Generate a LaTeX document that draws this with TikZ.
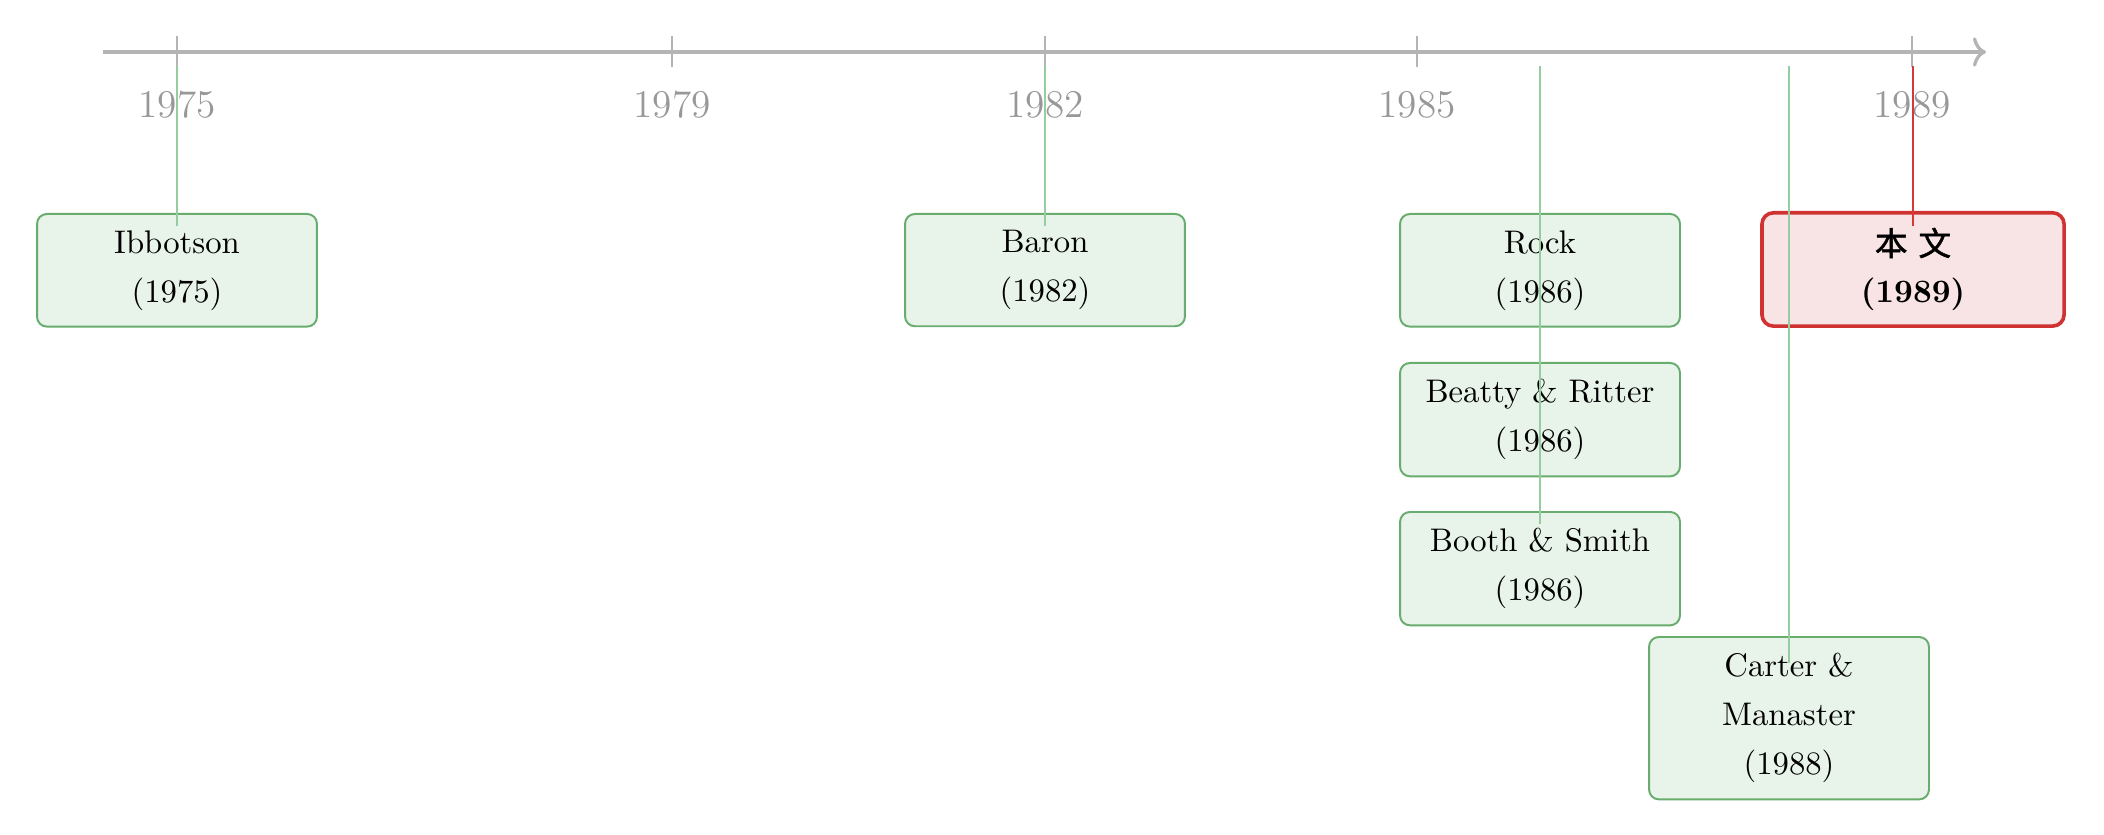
\documentclass[tikz,border=0pt]{standalone}
\usepackage{fontspec}
\newfontfamily\cjk{Noto Sans CJK SC}[AutoFakeBold=1.5]
\usetikzlibrary{arrows.meta}
\definecolor{axisgray}{RGB}{180,180,180}
\definecolor{labelgray}{RGB}{152,152,152}
\definecolor{gline}{RGB}{148,205,160}
\definecolor{gborder}{RGB}{104,172,110}
\definecolor{gfill}{RGB}{232,243,233}
\definecolor{rborder}{RGB}{208,50,50}
\definecolor{rfill}{RGB}{248,228,229}
\definecolor{rline}{RGB}{212,56,56}
\begin{document}
\begin{tikzpicture}[x=0.30581pt,y=-0.30581pt,
  axis/.style={axisgray,line width=1pt,-{To[length=4pt,width=9pt]}},
  tickmark/.style={axisgray,line width=0.5pt},
  yearlabel/.style={text=labelgray,font=\large,anchor=base,inner sep=0pt},
  paper/.style={draw=gborder,fill=gfill,line width=0.6pt,rounded corners=3pt,
    text width=72pt,align=center,inner xsep=6.8pt,inner ysep=5pt,anchor=north,
    minimum height=34.2pt,font=\fontsize{10}{15}\selectfont},
  ours/.style={draw=rborder,fill=rfill,line width=1.1pt,rounded corners=3.5pt,
    text width=72pt,align=center,inner xsep=10.2pt,inner ysep=4.6pt,anchor=north,
    font=\fontsize{10}{14.5}\selectfont\bfseries},
  link/.style={gline,line width=0.5pt},
  ourlink/.style={rline,line width=0.6pt},
]
\useasboundingbox (0,0) rectangle (2104,835);
% axis
\coordinate (axL) at (103,52);
\coordinate (axR) at (1986,52);
\draw[axis] (axL) -- (axR);
% ticks and year labels
\foreach \yr/\xx in {1975/177,1979/672,1982/1045,1985/1417,1989/1912}{
  \coordinate (ta\yr) at (\xx,36);
  \coordinate (tb\yr) at (\xx,67);
  \draw[tickmark] (ta\yr) -- (tb\yr);
  \node[yearlabel] (lab\yr) at (\xx,118) {\yr};
}
% boxes
\node[paper] (ibb) at (177,213) {Ibbotson\\(1975)};
\node[paper] (baron) at (1045,213) {Baron\\(1982)};
\node[paper] (rock) at (1540,213) {Rock\\(1986)};
\node[paper] (beatty) at (1540,362) {Beatty \& Ritter\\(1986)};
\node[paper] (booth) at (1540,511) {Booth \& Smith\\(1986)};
\node[paper] (carter) at (1789,636) {Carter \& Manaster\\(1988)};
\node[ours] (this) at (1913,211) {{\cjk 本}~{\cjk 文}\\(1989)};
% connectors
\coordinate (s1975) at (177,66);
\coordinate (s1982) at (1045,66);
\coordinate (s1986) at (1540,66);
\coordinate (s1988) at (1789,66);
\coordinate (s1989) at (1913,66);
\draw[link] (s1975) -- ([yshift=-4pt]ibb.north);
\draw[link] (s1982) -- ([yshift=-4pt]baron.north);
\draw[link] (s1986) -- ([yshift=-4pt]booth.north);
\draw[link] (s1988) -- ([yshift=-8.3pt]carter.north);
\draw[ourlink] (s1989) -- ([yshift=-4.6pt]this.north);
\end{tikzpicture}
\end{document}
